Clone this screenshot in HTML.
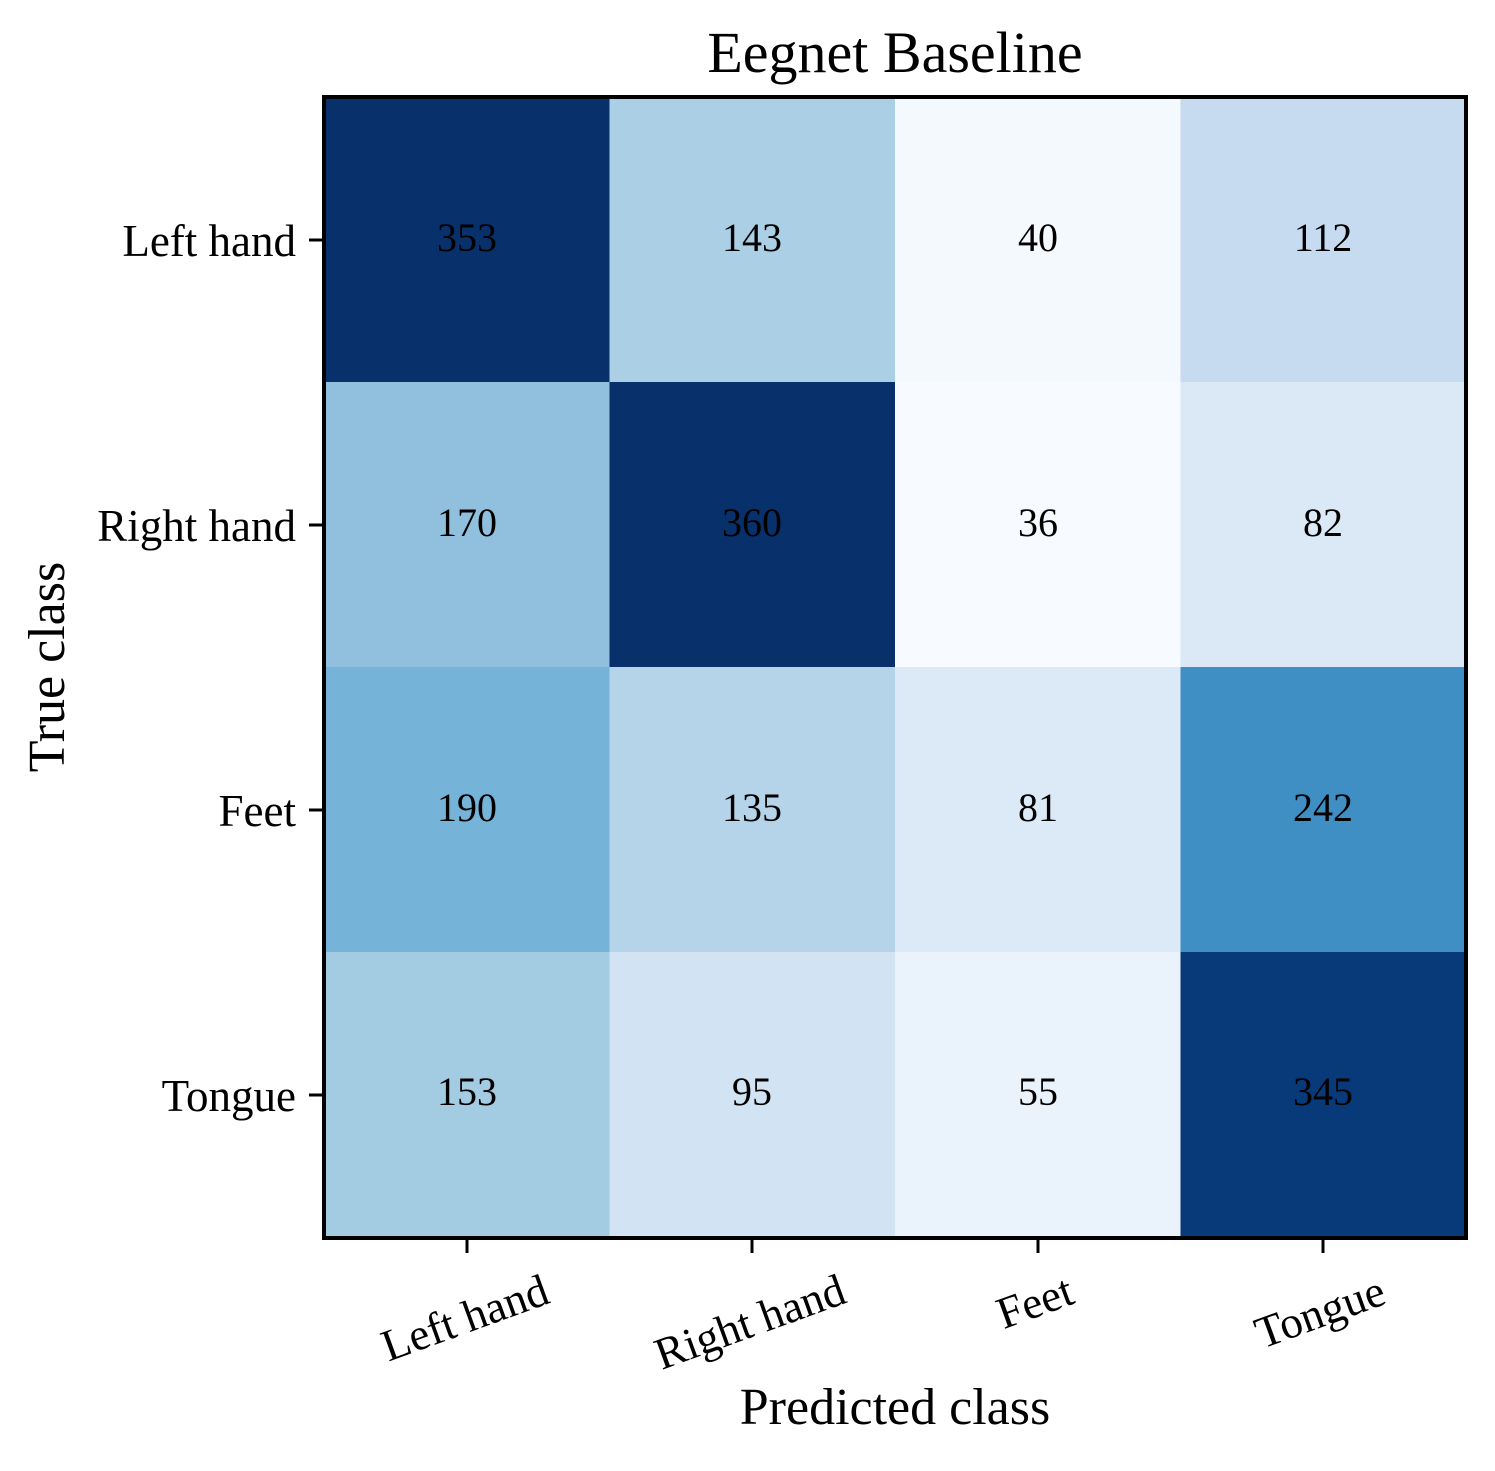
<!DOCTYPE html>
<html><head><meta charset="utf-8"><style>html,body{margin:0;padding:0;background:#fff}</style></head>
<body>
<svg width="1495" height="1466" xmlns="http://www.w3.org/2000/svg" font-family="Liberation Serif, serif">
<rect width="1495" height="1466" fill="#fff"/>
<g>
<rect x="324" y="97" width="286" height="286" fill="#08306b"/>
<rect x="609.5" y="97" width="286" height="286" fill="#abcfe5"/>
<rect x="895" y="97" width="286" height="286" fill="#f4f9fe"/>
<rect x="1180.5" y="97" width="286" height="286" fill="#c6dbef"/>
<rect x="324" y="382" width="286" height="286" fill="#91c0df"/>
<rect x="609.5" y="382" width="286" height="286" fill="#08306b"/>
<rect x="895" y="382" width="286" height="286" fill="#f7fbff"/>
<rect x="1180.5" y="382" width="286" height="286" fill="#dbe9f6"/>
<rect x="324" y="667" width="286" height="286" fill="#76b3d8"/>
<rect x="609.5" y="667" width="286" height="286" fill="#b5d3e9"/>
<rect x="895" y="667" width="286" height="286" fill="#dce9f6"/>
<rect x="1180.5" y="667" width="286" height="286" fill="#3f8fc5"/>
<rect x="324" y="952" width="286" height="286" fill="#a3cbe2"/>
<rect x="609.5" y="952" width="286" height="286" fill="#d2e3f3"/>
<rect x="895" y="952" width="286" height="286" fill="#eaf2fb"/>
<rect x="1180.5" y="952" width="286" height="286" fill="#083a7a"/>
</g>
<rect x="324" y="97" width="1142" height="1141" fill="none" stroke="#000" stroke-width="4"/>
<g font-size="40" text-anchor="middle" fill="#000">
<text x="467" y="251">353</text><text x="752" y="251">143</text><text x="1038" y="251">40</text><text x="1323" y="251">112</text>
<text x="467" y="536">170</text><text x="752" y="536">360</text><text x="1038" y="536">36</text><text x="1323" y="536">82</text>
<text x="467" y="821">190</text><text x="752" y="821">135</text><text x="1038" y="821">81</text><text x="1323" y="821">242</text>
<text x="467" y="1105">153</text><text x="752" y="1105">95</text><text x="1038" y="1105">55</text><text x="1323" y="1105">345</text>
</g>
<g stroke="#000" stroke-width="3">
<line x1="309" y1="240" x2="324" y2="240"/><line x1="309" y1="525" x2="324" y2="525"/>
<line x1="309" y1="810" x2="324" y2="810"/><line x1="309" y1="1095" x2="324" y2="1095"/>
<line x1="467" y1="1238" x2="467" y2="1253"/><line x1="752" y1="1238" x2="752" y2="1253"/>
<line x1="1038" y1="1238" x2="1038" y2="1253"/><line x1="1323" y1="1238" x2="1323" y2="1253"/>
</g>
<g font-size="45" text-anchor="end">
<text x="296" y="256">Left hand</text><text x="296" y="541">Right hand</text>
<text x="296" y="826">Feet</text><text x="296" y="1111">Tongue</text>
</g>
<g font-size="45" text-anchor="middle">
<text transform="translate(470,1332) rotate(-20)">Left hand</text>
<text transform="translate(755,1336) rotate(-20)">Right hand</text>
<text transform="translate(1040,1316) rotate(-20)">Feet</text>
<text transform="translate(1325,1326) rotate(-20)">Tongue</text>
</g>
<text x="895" y="1424" font-size="52" text-anchor="middle">Predicted class</text>
<text transform="translate(64,667) rotate(-90)" font-size="52" text-anchor="middle">True class</text>
<text x="895" y="72" font-size="58" text-anchor="middle">Eegnet Baseline</text>
</svg>
</body></html>
